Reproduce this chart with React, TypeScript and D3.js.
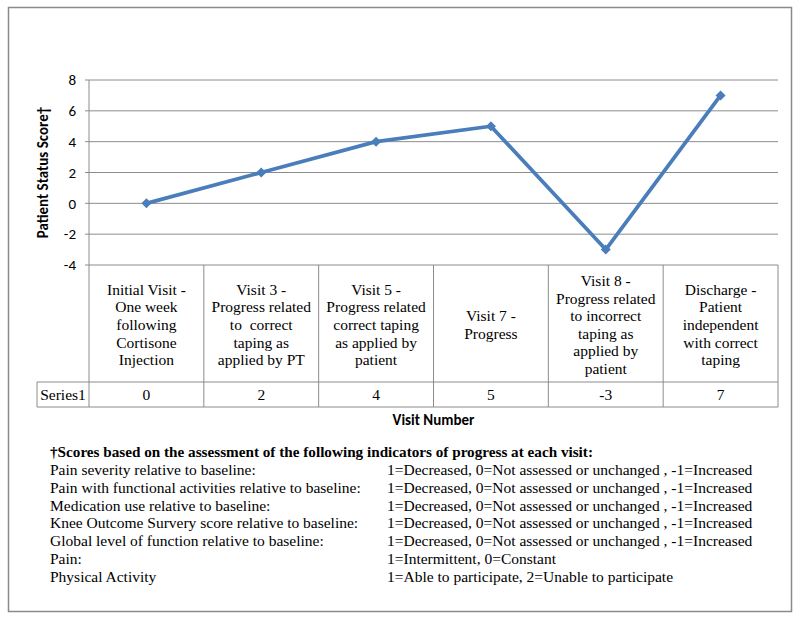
import React from "react";
import * as d3 from "d3";

const categories = [
  ["Initial Visit -", "One week", "following", "Cortisone", "Injection"],
  ["Visit 3 -", "Progress related", "to  correct", "taping as", "applied by PT"],
  ["Visit 5 -", "Progress related", "correct taping", "as applied by", "patient"],
  ["Visit 7 -", "Progress"],
  ["Visit 8 -", "Progress related", "to incorrect", "taping as", "applied by", "patient"],
  ["Discharge -", "Patient", "independent", "with correct", "taping"],
];
const seriesName = "Series1";
const values = [0, 2, 4, 5, -3, 7];
const yTicks = [-4, -2, 0, 2, 4, 6, 8];

const footTitle = "†Scores based on the assessment of the following indicators of progress at each visit:";
const footLabels = [
  "Pain severity relative to baseline:",
  "Pain with functional activities relative to baseline:",
  "Medication use relative to baseline:",
  "Knee Outcome Survery score relative to baseline:",
  "Global level of function relative to baseline:",
  "Pain:",
  "Physical Activity",
];
const footValues = [
  "1=Decreased, 0=Not assessed or unchanged , -1=Increased",
  "1=Decreased, 0=Not assessed or unchanged , -1=Increased",
  "1=Decreased, 0=Not assessed or unchanged , -1=Increased",
  "1=Decreased, 0=Not assessed or unchanged , -1=Increased",
  "1=Decreased, 0=Not assessed or unchanged , -1=Increased",
  "1=Intermittent, 0=Constant",
  "1=Able to participate, 2=Unable to participate",
];

export default function App() {
  const W = 800, H = 620;
  const left = 89, right = 778, top = 80, bottom = 265;
  const x = d3.scaleBand<number>().domain(d3.range(categories.length)).range([left, right]).padding(0);
  const y = d3.scaleLinear().domain([-4, 8]).range([bottom, top]);
  const cx = (i: number) => (x(i) as number) + x.bandwidth() / 2;
  const line = d3.line<number>().x((_, i) => cx(i)).y((d) => y(d));
  const headerBottom = 382, rowBottom = 407, seriesLeft = 37;
  const grid = "#8c8c8c";
  const blue = "#4a7ebb";
  const serif = { fontFamily: "Liberation Serif", fontSize: 15.5 } as React.CSSProperties;
  const sans = { fontFamily: "Carlito" } as React.CSSProperties;
  const lh = 17.6;
  const headerMid = 324.5;
  const marker = d3.symbol(d3.symbolSquare, 50)() as string;

  return (
    <svg width={W} height={H} style={{ position: "absolute", left: 0, top: 0, background: "#fff" }}>
      <rect x={8.5} y={7.5} width={783} height={604} fill="#fff" stroke="#8a8a8a" strokeWidth={1.5} />
      {yTicks.map((t) => (
        <g key={t}>
          <line x1={85} x2={right} y1={y(t)} y2={y(t)} stroke={grid} strokeWidth={1} />
          <text x={76} y={y(t)} dy="0.35em" textAnchor="end" style={{ ...sans, fontSize: 15 }} fill="#000">
            {t}
          </text>
        </g>
      ))}
      <line x1={left} x2={left} y1={top} y2={rowBottom} stroke={grid} />
      {categories.map((_, i) => (
        <line key={i} x1={(x(i) as number) + x.bandwidth()} x2={(x(i) as number) + x.bandwidth()} y1={bottom} y2={rowBottom} stroke={grid} />
      ))}
      <line x1={seriesLeft} x2={right} y1={headerBottom} y2={headerBottom} stroke={grid} />
      <line x1={seriesLeft} x2={right} y1={rowBottom} y2={rowBottom} stroke={grid} />
      <line x1={seriesLeft} x2={seriesLeft} y1={headerBottom} y2={rowBottom} stroke={grid} />
      {categories.map((lines, i) => (
        <text key={i} textAnchor="middle" style={serif} fill="#000">
          {lines.map((l, j) => (
            <tspan key={j} x={cx(i)} y={headerMid + (j - (lines.length - 1) / 2) * lh} dy="0.35em" style={{ whiteSpace: "pre" }}>
              {l}
            </tspan>
          ))}
        </text>
      ))}
      <text x={(seriesLeft + left) / 2} y={(headerBottom + rowBottom) / 2} dy="0.35em" textAnchor="middle" style={serif}>
        {seriesName}
      </text>
      {values.map((v, i) => (
        <text key={i} x={cx(i)} y={(headerBottom + rowBottom) / 2} dy="0.35em" textAnchor="middle" style={serif}>
          {v}
        </text>
      ))}
      <path d={line(values) as string} fill="none" stroke={blue} strokeWidth={3.75} strokeLinejoin="round" />
      {values.map((v, i) => (
        <path key={i} d={marker} transform={`translate(${cx(i)},${y(v)}) rotate(45)`} fill={blue} />
      ))}
      <text transform={`translate(43,${(top + bottom) / 2}) rotate(-90)`} dy="0.35em" textAnchor="middle" style={{ ...sans, fontSize: 15, fontWeight: "bold" }}>
        Patient Status Score†
      </text>
      <text x={(left + right) / 2} y={420} dy="0.35em" textAnchor="middle" style={{ ...sans, fontSize: 15, fontWeight: "bold" }}>
        Visit Number
      </text>
      <text x={50} y={452} dy="0.35em" style={{ ...serif, fontSize: 15.2, fontWeight: "bold" }}>
        {footTitle}
      </text>
      {footLabels.map((l, i) => (
        <g key={i}>
          <text x={50} y={469.5 + i * 17.8} dy="0.35em" style={serif}>
            {l}
          </text>
          <text x={387} y={469.5 + i * 17.8} dy="0.35em" style={serif}>
            {footValues[i]}
          </text>
        </g>
      ))}
    </svg>
  );
}
